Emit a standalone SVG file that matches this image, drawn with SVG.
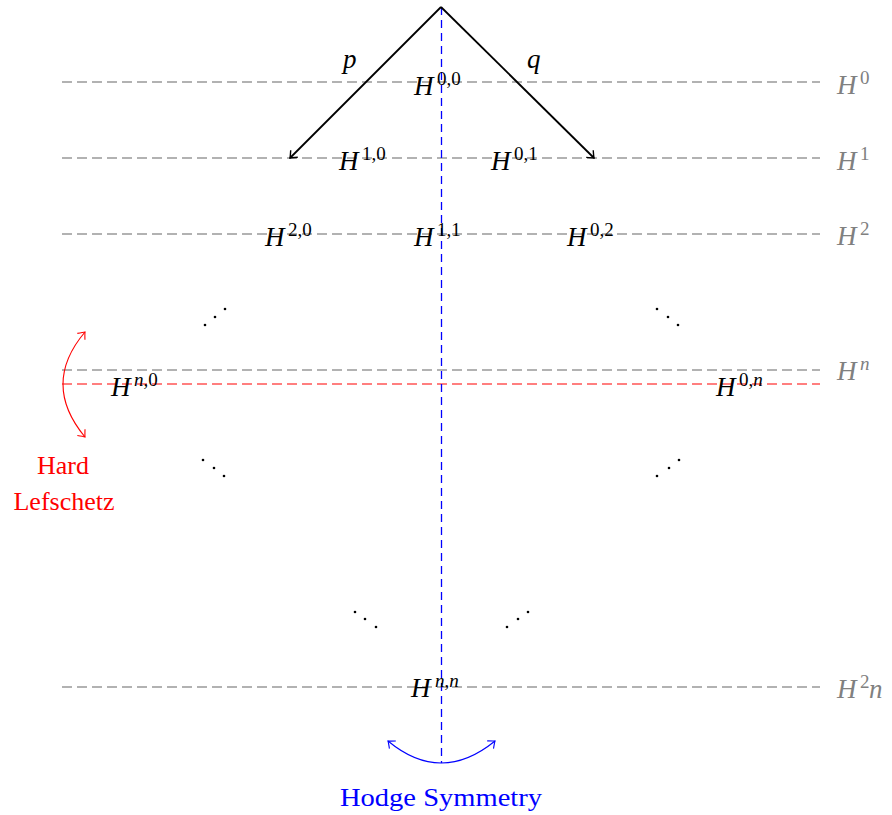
<svg xmlns="http://www.w3.org/2000/svg" width="892" height="815" viewBox="0 0 892 815">
<style>
.gl{stroke:#999;stroke-width:1.3;stroke-dasharray:10 5;fill:none}
.rl{stroke:#f00;stroke-width:1.1;stroke-dasharray:10 5;fill:none}
.bl{stroke:#0000ff;stroke-width:1.3;stroke-dasharray:8 5;fill:none}
.ar{stroke:#000;stroke-width:1.8;fill:none}
.m{font-family:"Liberation Serif",serif;font-size:27px;font-style:italic;fill:#000}
.s{font-size:19px;font-style:normal}
.si{font-size:19px;font-style:italic}
.g{fill:#808080}
.t{font-family:"Liberation Serif",serif;font-size:26px}
.d{fill:#000}
</style>
<defs>
<marker id="ak" viewBox="-10 -8 12 16" markerWidth="12" markerHeight="16" refX="0" refY="0" orient="auto" markerUnits="userSpaceOnUse">
<path d="M-6,-5 Q-1.5,-1 0,0 Q-1.5,1 -6,5" stroke="#000" stroke-width="1.4" fill="none"/>
</marker>
<marker id="ar" viewBox="-10 -8 12 16" markerWidth="12" markerHeight="16" refX="0" refY="0" orient="auto-start-reverse" markerUnits="userSpaceOnUse">
<path d="M-6,-5 Q-1.5,-1 0,0 Q-1.5,1 -6,5" stroke="#f00" stroke-width="1.1" fill="none"/>
</marker>
<marker id="ab" viewBox="-10 -8 12 16" markerWidth="12" markerHeight="16" refX="0" refY="0" orient="auto-start-reverse" markerUnits="userSpaceOnUse">
<path d="M-6,-5 Q-1.5,-1 0,0 Q-1.5,1 -6,5" stroke="#00f" stroke-width="1.1" fill="none"/>
</marker>
</defs>
<g id="grid">
<line class="gl" x1="62" y1="82" x2="820" y2="82"/>
<line class="gl" x1="62" y1="158" x2="820" y2="158"/>
<line class="gl" x1="62" y1="234" x2="820" y2="234"/>
<line class="gl" x1="62" y1="370" x2="820" y2="370"/>
<line class="gl" x1="62" y1="687" x2="820" y2="687"/>
<line class="rl" x1="62" y1="384" x2="820" y2="384"/>
<line class="bl" x1="441.5" y1="7" x2="441.5" y2="763"/>
</g>
<g id="connectors">
<line class="ar" x1="441" y1="7" x2="290" y2="158" marker-end="url(#ak)"/>
<line class="ar" x1="441" y1="7" x2="594" y2="158" marker-end="url(#ak)"/>
<path d="M85,332 Q41,384 85,437" stroke="#f00" stroke-width="1.1" fill="none" marker-start="url(#ar)" marker-end="url(#ar)"/>
<path d="M388,741 Q441,785 495,741" stroke="#00f" stroke-width="1.1" fill="none" marker-start="url(#ab)" marker-end="url(#ab)"/>
</g>
<g id="labels">
<text class="m" x="343" y="68">p</text>
<text class="m" x="527" y="68">q</text>
</g>
<g id="H00"><text class="m" x="414" y="95">H<tspan class="s" x="437" y="85">0,0</tspan></text></g>
<g id="H10"><text class="m" x="339" y="170">H<tspan class="s" x="362" y="160">1,0</tspan></text></g>
<g id="H01"><text class="m" x="491" y="170">H<tspan class="s" x="514" y="160">0,1</tspan></text></g>
<g id="H20"><text class="m" x="265" y="246">H<tspan class="s" x="288" y="236">2,0</tspan></text></g>
<g id="H11"><text class="m" x="414" y="246">H<tspan class="s" x="437" y="236">1,1</tspan></text></g>
<g id="H02"><text class="m" x="567" y="246">H<tspan class="s" x="590" y="236">0,2</tspan></text></g>
<g id="Hn0"><text class="m" x="111" y="396">H<tspan class="si" x="134" y="386">n</tspan><tspan class="s">,0</tspan></text></g>
<g id="H0n"><text class="m" x="716" y="396">H<tspan class="s" x="739" y="386">0,</tspan><tspan class="si">n</tspan></text></g>
<g id="Hnn"><text class="m" x="411" y="697">H<tspan class="si" x="435" y="687">n</tspan><tspan class="s">,</tspan><tspan class="si">n</tspan></text></g>
<g id="right-labels">
<text class="m g" x="837" y="94">H<tspan class="s" x="860" y="84">0</tspan></text>
<text class="m g" x="837" y="170">H<tspan class="s" x="860" y="160">1</tspan></text>
<text class="m g" x="837" y="245">H<tspan class="s" x="860" y="235">2</tspan></text>
<text class="m g" x="837" y="380">H<tspan class="si" x="860" y="370">n</tspan></text>
<text class="m g" x="837" y="698">H<tspan class="s" x="860" y="688">2</tspan><tspan x="869" y="698">n</tspan></text>
</g>
<g id="dots">
<circle class="d" cx="205" cy="325" r="1.3"/><circle class="d" cx="215" cy="317" r="1.3"/><circle class="d" cx="225" cy="309" r="1.3"/>
<circle class="d" cx="203" cy="460" r="1.3"/><circle class="d" cx="214" cy="468" r="1.3"/><circle class="d" cx="224" cy="476" r="1.3"/>
<circle class="d" cx="657" cy="309" r="1.3"/><circle class="d" cx="668" cy="317" r="1.3"/><circle class="d" cx="678" cy="325" r="1.3"/>
<circle class="d" cx="657" cy="476" r="1.3"/><circle class="d" cx="669" cy="468" r="1.3"/><circle class="d" cx="679" cy="460" r="1.3"/>
<circle class="d" cx="355" cy="612" r="1.3"/><circle class="d" cx="365" cy="619" r="1.3"/><circle class="d" cx="376" cy="627" r="1.3"/>
<circle class="d" cx="507" cy="627" r="1.3"/><circle class="d" cx="518" cy="619" r="1.3"/><circle class="d" cx="528" cy="612" r="1.3"/>
</g>
<g id="hard-lefschetz">
<text class="t" x="63" y="474" text-anchor="middle" fill="#f00">Hard</text>
<text class="t" x="64" y="510" text-anchor="middle" fill="#f00">Lefschetz</text>
</g>
<g id="hodge-symmetry">
<text class="t" x="340" y="806" fill="#00f" textLength="202" lengthAdjust="spacingAndGlyphs">Hodge Symmetry</text>
</g>
</svg>
